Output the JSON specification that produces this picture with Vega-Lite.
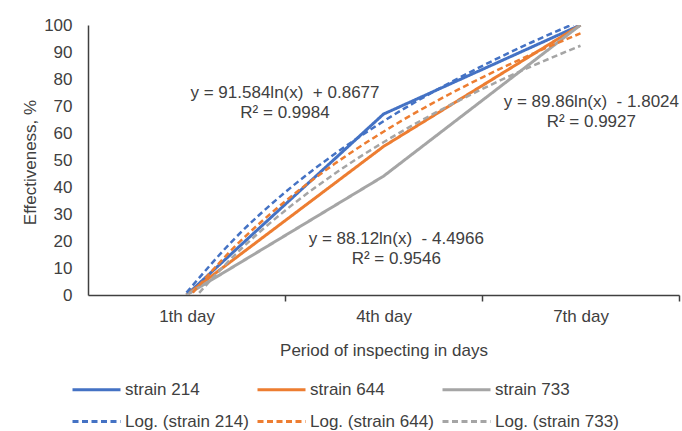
{
  "$schema": "https://vega.github.io/schema/vega-lite/v6.json",
  "width": 591,
  "height": 270,
  "autosize": {"type": "none"},
  "padding": {"left": 88, "top": 25, "right": 3, "bottom": 136},
  "background": "white",
  "config": {
    "view": {"stroke": null},
    "font": "Liberation Sans",
    "axis": {
      "labelFont": "Liberation Sans",
      "titleFont": "Liberation Sans",
      "labelFontSize": 17,
      "titleFontSize": 17,
      "labelColor": "#404040",
      "titleColor": "#404040",
      "titleFontWeight": "normal",
      "domainColor": "#404040",
      "domainWidth": 1.5,
      "tickColor": "#404040",
      "tickWidth": 1.5,
      "grid": false
    },
    "legend": {
      "orient": "none",
      "direction": "horizontal",
      "legendX": -17,
      "legendY": 353,
      "columns": 3,
      "columnPadding": 2,
      "rowPadding": 12,
      "symbolType": "M-1,0H3.8",
      "symbolSize": 400,
      "symbolStrokeWidth": 3,
      "labelOffset": 31,
      "labelFont": "Liberation Sans",
      "labelFontSize": 17,
      "labelColor": "#404040",
      "labelLimit": 300,
      "padding": 0,
      "title": null
    }
  },
  "data": {
    "values": [
      {"series": "strain 214", "kind": "data", "day": 1, "value": 0},
      {"series": "strain 214", "kind": "data", "day": 2, "value": 67},
      {"series": "strain 214", "kind": "data", "day": 3, "value": 100},
      {"series": "strain 644", "kind": "data", "day": 1, "value": 0},
      {"series": "strain 644", "kind": "data", "day": 2, "value": 55},
      {"series": "strain 644", "kind": "data", "day": 3, "value": 100},
      {"series": "strain 733", "kind": "data", "day": 1, "value": 0},
      {"series": "strain 733", "kind": "data", "day": 2, "value": 44},
      {"series": "strain 733", "kind": "data", "day": 3, "value": 100},
      {"series": "Log. (strain 214)", "kind": "trend", "day": 1, "value": 0.87},
      {"series": "Log. (strain 214)", "kind": "trend", "day": 1.25, "value": 21.3},
      {"series": "Log. (strain 214)", "kind": "trend", "day": 1.5, "value": 38.0},
      {"series": "Log. (strain 214)", "kind": "trend", "day": 1.75, "value": 52.12},
      {"series": "Log. (strain 214)", "kind": "trend", "day": 2, "value": 64.35},
      {"series": "Log. (strain 214)", "kind": "trend", "day": 2.25, "value": 75.14},
      {"series": "Log. (strain 214)", "kind": "trend", "day": 2.5, "value": 84.79},
      {"series": "Log. (strain 214)", "kind": "trend", "day": 2.75, "value": 93.52},
      {"series": "Log. (strain 214)", "kind": "trend", "day": 3, "value": 101.48},
      {"series": "Log. (strain 644)", "kind": "trend", "day": 1, "value": -1.8},
      {"series": "Log. (strain 644)", "kind": "trend", "day": 1.25, "value": 18.24},
      {"series": "Log. (strain 644)", "kind": "trend", "day": 1.5, "value": 34.63},
      {"series": "Log. (strain 644)", "kind": "trend", "day": 1.75, "value": 48.48},
      {"series": "Log. (strain 644)", "kind": "trend", "day": 2, "value": 60.48},
      {"series": "Log. (strain 644)", "kind": "trend", "day": 2.25, "value": 71.07},
      {"series": "Log. (strain 644)", "kind": "trend", "day": 2.5, "value": 80.54},
      {"series": "Log. (strain 644)", "kind": "trend", "day": 2.75, "value": 89.1},
      {"series": "Log. (strain 644)", "kind": "trend", "day": 3, "value": 96.92},
      {"series": "Log. (strain 733)", "kind": "trend", "day": 1, "value": -4.5},
      {"series": "Log. (strain 733)", "kind": "trend", "day": 1.25, "value": 15.16},
      {"series": "Log. (strain 733)", "kind": "trend", "day": 1.5, "value": 31.23},
      {"series": "Log. (strain 733)", "kind": "trend", "day": 1.75, "value": 44.82},
      {"series": "Log. (strain 733)", "kind": "trend", "day": 2, "value": 56.58},
      {"series": "Log. (strain 733)", "kind": "trend", "day": 2.25, "value": 66.96},
      {"series": "Log. (strain 733)", "kind": "trend", "day": 2.5, "value": 76.25},
      {"series": "Log. (strain 733)", "kind": "trend", "day": 2.75, "value": 84.65},
      {"series": "Log. (strain 733)", "kind": "trend", "day": 3, "value": 92.31}
    ]
  },
  "encoding": {
    "x": {
      "field": "day",
      "type": "quantitative",
      "scale": {"domain": [0.5, 3.5], "nice": false, "zero": false},
      "axis": {
        "values": [1, 2, 3],
        "labelExpr": "datum.value == 1 ? '1th day' : datum.value == 2 ? '4th day' : '7th day'",
        "tickSize": 6,
        "tickOffset": 98.5,
        "labelOffset": -98.5,
        "labelPadding": 7,
        "title": "Period of inspecting in days",
        "titleY": 55,
        "titleBaseline": "middle"
      }
    },
    "y": {
      "field": "value",
      "type": "quantitative",
      "scale": {"domain": [0, 100], "nice": false},
      "axis": {
        "values": [0, 10, 20, 30, 40, 50, 60, 70, 80, 90, 100],
        "ticks": false,
        "labelPadding": 16,
        "title": "Effectiveness, %",
        "titleX": -58,
        "titleY": 137,
        "titleAngle": -90,
        "titleAlign": "center",
        "titleBaseline": "middle"
      }
    }
  },
  "layer": [
    {
      "transform": [{"filter": {"field": "kind", "equal": "data"}}],
      "mark": {"type": "line", "strokeWidth": 3, "clip": true},
      "encoding": {
        "color": {
          "field": "series",
          "type": "nominal",
          "scale": {
            "domain": ["strain 214", "strain 644", "strain 733", "Log. (strain 214)", "Log. (strain 644)", "Log. (strain 733)"],
            "range": ["#4472C4", "#ED7D31", "#A5A5A5", "#4472C4", "#ED7D31", "#A5A5A5"]
          }
        },
        "strokeDash": {
          "field": "series",
          "type": "nominal",
          "scale": {
            "domain": ["strain 214", "strain 644", "strain 733", "Log. (strain 214)", "Log. (strain 644)", "Log. (strain 733)"],
            "range": [[1, 0], [1, 0], [1, 0], [6, 3.5], [6, 3.5], [6, 3.5]]
          }
        }
      }
    },
    {
      "transform": [{"filter": {"field": "kind", "equal": "trend"}}],
      "mark": {"type": "line", "strokeWidth": 2.5, "clip": true, "interpolate": "monotone"},
      "encoding": {
        "color": {"field": "series", "type": "nominal"},
        "strokeDash": {"field": "series", "type": "nominal"}
      }
    },
    {
      "transform": [{"filter": {"and": [{"field": "series", "equal": "Log. (strain 214)"}, {"field": "day", "equal": 1}]}}],
      "mark": {"type": "text", "align": "center", "baseline": "middle", "fontSize": 17, "lineHeight": 20, "fill": "#404040", "font": "Liberation Sans", "text": ["y = 91.584ln(x)\u00a0\u00a0+ 0.8677", "R² = 0.9984"]},
      "encoding": {
        "x": {"datum": 1.5, "type": "quantitative"},
        "y": {"datum": 74.8, "type": "quantitative"}
      }
    },
    {
      "transform": [{"filter": {"and": [{"field": "series", "equal": "Log. (strain 644)"}, {"field": "day", "equal": 1}]}}],
      "mark": {"type": "text", "align": "center", "baseline": "middle", "fontSize": 17, "lineHeight": 20, "fill": "#404040", "font": "Liberation Sans", "text": ["y = 89.86ln(x)\u00a0 - 1.8024", "R² = 0.9927"]},
      "encoding": {
        "x": {"datum": 3.055, "type": "quantitative"},
        "y": {"datum": 71.5, "type": "quantitative"}
      }
    },
    {
      "transform": [{"filter": {"and": [{"field": "series", "equal": "Log. (strain 733)"}, {"field": "day", "equal": 1}]}}],
      "mark": {"type": "text", "align": "center", "baseline": "middle", "fontSize": 17, "lineHeight": 20, "fill": "#404040", "font": "Liberation Sans", "text": ["y = 88.12ln(x)\u00a0 - 4.4966", "R² = 0.9546"]},
      "encoding": {
        "x": {"datum": 2.065, "type": "quantitative"},
        "y": {"datum": 20.7, "type": "quantitative"}
      }
    }
  ]
}
